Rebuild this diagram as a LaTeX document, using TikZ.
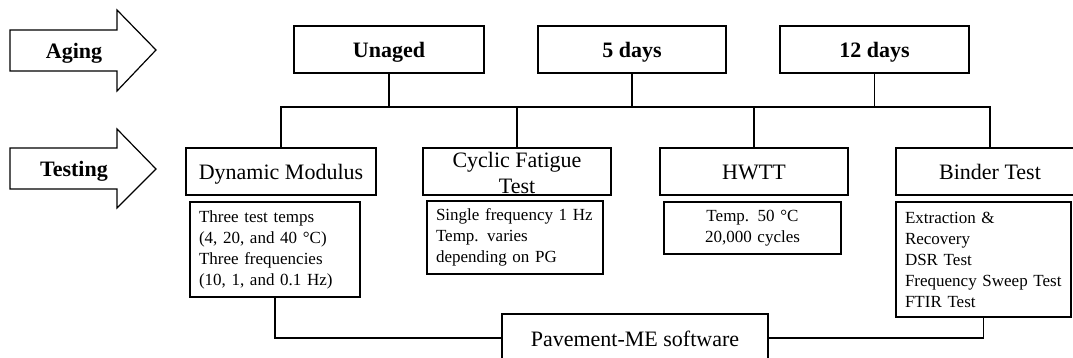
\documentclass[tikz,border=0pt]{standalone}
\usepackage{fontspec}
\setmainfont{Liberation Serif}
\begin{document}
\begin{tikzpicture}[x=1pt,y=-1pt,
  thickbox/.style={draw=black,line width=2.4pt,rectangle,inner sep=0pt,minimum height=47pt,text height=20pt,text depth=3pt,font=\fontsize{22}{26}\selectfont},
  agebox/.style={thickbox,font=\fontsize{22}{26}\selectfont\bfseries},
  lbl/.style={inner sep=0pt,align=center,font=\fontsize{22}{26}\selectfont},
  arrowlbl/.style={inner sep=0pt,text height=20pt,text depth=3pt,font=\fontsize{22}{26}\selectfont\bfseries},
  detail/.style={draw=black,line width=1.2pt,rectangle,inner xsep=9pt,inner ysep=0pt,align=left,font=\fontsize{17}{21}\selectfont},
  conn/.style={draw=black,line width=1.5pt},
  bigarrow/.style={draw=black,line width=1.2pt,fill=white}]
\useasboundingbox (0,0) rectangle (1073,358);
% side arrows
\draw[bigarrow] (10,30) -- (117,30) -- (117,10) -- (156,50) -- (117,91) -- (117,71) -- (10,71) -- cycle;
\node[arrowlbl] (aging) at (74,50.5) {Aging};
\draw[bigarrow] (10,148) -- (117,148) -- (117,129) -- (156,169) -- (117,208) -- (117,189) -- (10,189) -- cycle;
\node[arrowlbl] (testing) at (74,168.5) {Testing};
% aging boxes
\node[agebox,minimum width=190pt] (u) at (389,49.5) {Unaged};
\node[agebox,minimum width=188pt] (d5) at (632,49.5) {5 days};
\node[agebox,minimum width=189pt] (d12) at (874.5,49.5) {12 days};
% test boxes
\node[thickbox,minimum width=190pt] (dm) at (281,171.5) {Dynamic Modulus};
\node[thickbox,minimum width=188pt] (cf) at (517,171.5) {};
\node[lbl] (cft) at (517,173) {Cyclic Fatigue\\Test};
\node[thickbox,minimum width=188pt] (hw) at (754,171.5) {HWTT};
\node[thickbox,minimum width=188pt] (bt) at (990,171.5) {Binder Test};
% bus
\coordinate (bus) at (0,107);
\draw[conn] (u.south) -- (u.south|-bus);
\draw[conn] (d5.south) -- (d5.south|-bus);
\draw[conn] (d12.south) -- (d12.south|-bus);
\draw[conn] (dm.north) -- (dm.north|-bus) -- (bt.north|-bus) -- (bt.north);
\draw[conn] (cf.north) -- (cf.north|-bus);
\draw[conn] (hw.north) -- (hw.north|-bus);
% detail boxes
\node[detail,text width=152pt,minimum height=95pt] (dd) at (275,249.5) {Three test temps\\(4, 20, and 40 °C)\\Three frequencies\\(10, 1, and 0.1 Hz)};
\node[detail,text width=158pt,minimum height=73pt] (cd) at (515,237.5) {Single frequency 1 Hz\\Temp. varies\\depending on PG};
\node[detail,align=center,text width=159pt,minimum height=52pt] (hd) at (752.5,228) {Temp. 50 °C\\20,000 cycles};
\node[detail,text width=157pt,minimum height=115pt] (bd) at (983.5,259.5) {Extraction \&\\Recovery\\DSR Test\\Frequency Sweep Test\\FTIR Test};
% pavement
\node[thickbox,minimum width=266pt,minimum height=48pt] (pv) at (635,338) {Pavement-ME software};
\draw[conn] (dd.south) -- (dd.south|-pv.west) -- (pv.west);
\draw[conn] (bd.south) -- (bd.south|-pv.east) -- (pv.east);
\end{tikzpicture}
\end{document}
